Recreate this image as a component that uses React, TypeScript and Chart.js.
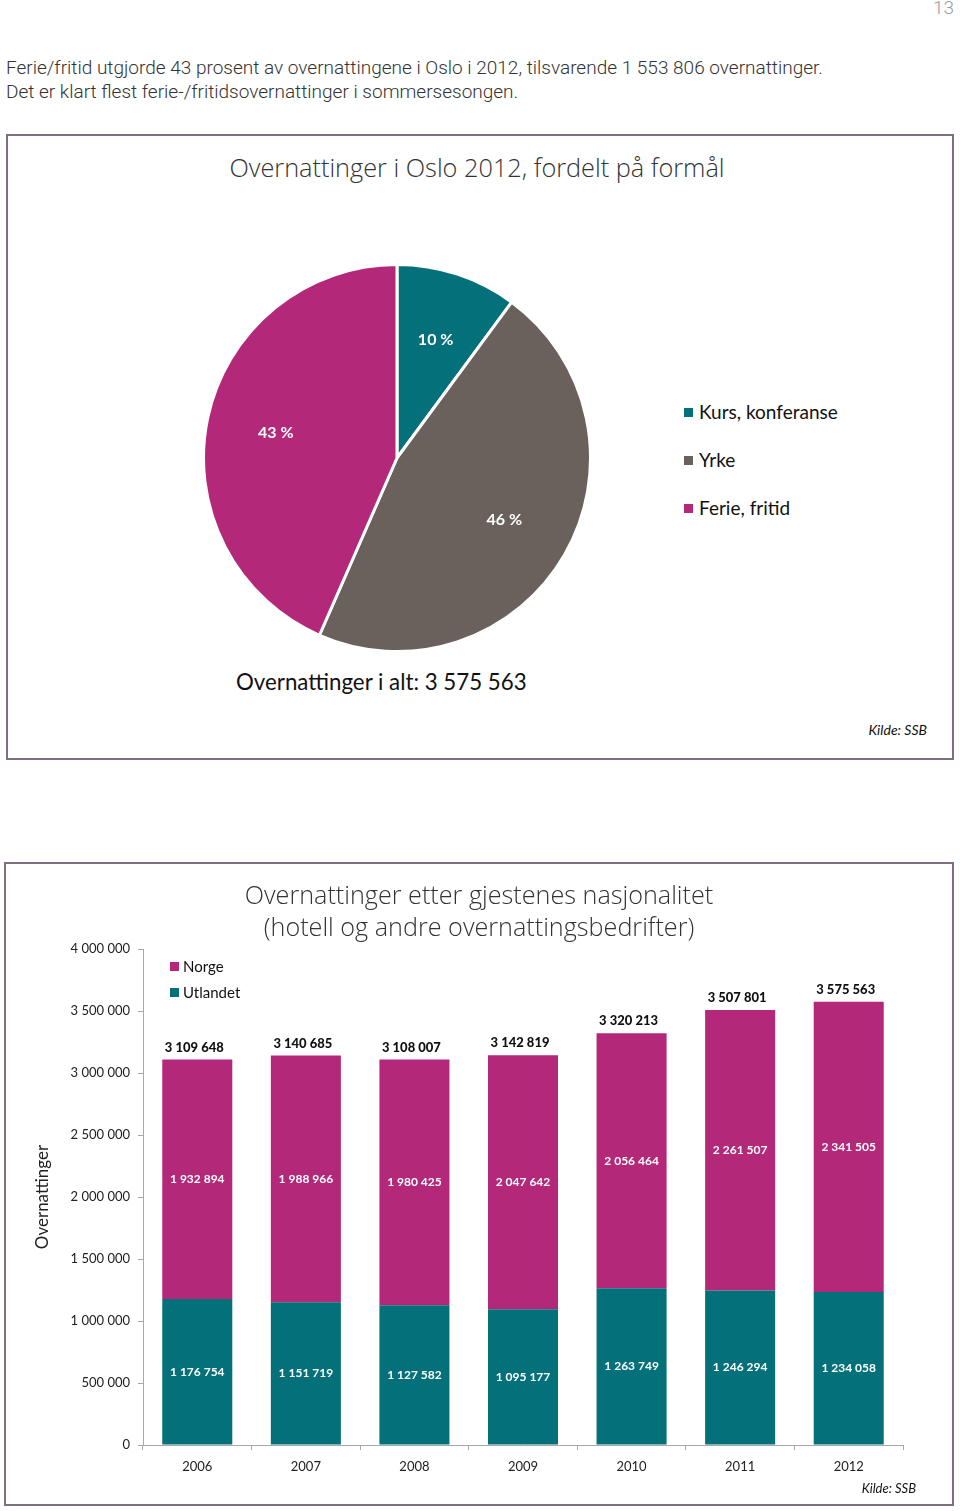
import React, { useEffect, useRef } from "react";
import { Chart, registerables } from "chart.js";

Chart.register(...registerables);

// ---------- data ----------
const pieLabels = ["Kurs, konferanse", "Yrke", "Ferie, fritid"];
const pieValues = [10, 46, 43];
const pieColors = ["#04707a", "#6a615c", "#b4287a"];

const years = ["2006", "2007", "2008", "2009", "2010", "2011", "2012"];
const norge = [1932894, 1988966, 1980425, 2047642, 2056464, 2261507, 2341505];
const utlandet = [1176754, 1151719, 1127582, 1095177, 1263749, 1246294, 1234058];
const totals = [3109648, 3140685, 3108007, 3142819, 3320213, 3507801, 3575563];
const yTicks = [0, 500000, 1000000, 1500000, 2000000, 2500000, 3000000, 3500000, 4000000];

const MAGENTA = "#b4287a";
const TEAL = "#04707a";
const CAL = "Lato, 'Open Sans', sans-serif";

const fmt = (n: number) => String(n).replace(/\B(?=(\d{3})+(?!\d))/g, " ");

function PieChart() {
  const ref = useRef<HTMLCanvasElement | null>(null);
  useEffect(() => {
    if (!ref.current) return;
    const labelPlugin = {
      id: "pieLabels",
      afterDatasetsDraw(chart: any) {
        const ctx = chart.ctx;
        const meta = chart.getDatasetMeta(0);
        ctx.save();
        ctx.fillStyle = "#ffffff";
        ctx.font = `bold 16px ${CAL}`;
        ctx.textAlign = "center";
        ctx.textBaseline = "middle";
        meta.data.forEach((arc: any, i: number) => {
          const { x, y, startAngle, endAngle, outerRadius } = arc.getProps(
            ["x", "y", "startAngle", "endAngle", "outerRadius"],
            true
          );
          const mid = (startAngle + endAngle) / 2;
          const r = outerRadius * 0.64;
          ctx.fillText(`${pieValues[i]} %`, x + Math.cos(mid) * r, y + Math.sin(mid) * r);
        });
        ctx.restore();
      },
    };
    const chart = new Chart(ref.current, {
      type: "pie",
      data: {
        labels: pieLabels,
        datasets: [
          {
            data: pieValues,
            backgroundColor: pieColors,
            borderColor: "#ffffff",
            borderWidth: 3,
          },
        ],
      },
      options: {
        animation: false,
        responsive: false,
        maintainAspectRatio: false,
        layout: { padding: 0 },
        plugins: { legend: { display: false }, tooltip: { enabled: false } },
      },
      plugins: [labelPlugin],
    });
    return () => chart.destroy();
  }, []);
  return (
    <canvas
      ref={ref}
      width={390}
      height={390}
      style={{ position: "absolute", left: 202, top: 263, width: 390, height: 390 }}
    />
  );
}

function BarChart() {
  const ref = useRef<HTMLCanvasElement | null>(null);
  useEffect(() => {
    if (!ref.current) return;
    const labelPlugin = {
      id: "barLabels",
      afterDatasetsDraw(chart: any) {
        const ctx = chart.ctx;
        ctx.save();
        ctx.textAlign = "center";
        ctx.textBaseline = "middle";
        chart.data.datasets.forEach((ds: any, di: number) => {
          const meta = chart.getDatasetMeta(di);
          meta.data.forEach((bar: any, i: number) => {
            const { x, y, base } = bar.getProps(["x", "y", "base"], true);
            ctx.fillStyle = "#ffffff";
            ctx.font = `bold 12px ${CAL}`;
            ctx.fillText(fmt(ds.data[i]), x, (y + base) / 2);
          });
        });
        const top = chart.getDatasetMeta(chart.data.datasets.length - 1);
        top.data.forEach((bar: any, i: number) => {
          const { x, y } = bar.getProps(["x", "y"], true);
          ctx.fillStyle = "#111111";
          ctx.font = `900 13px ${CAL}`;
          ctx.fillText(fmt(totals[i]), x - 3, y - 12);
        });
        ctx.restore();
      },
    };
    const chart = new Chart(ref.current, {
      type: "bar",
      data: {
        labels: years,
        datasets: [
          { label: "Utlandet", data: utlandet, backgroundColor: TEAL, stack: "s" },
          { label: "Norge", data: norge, backgroundColor: MAGENTA, stack: "s" },
        ],
      },
      options: {
        animation: false,
        responsive: false,
        maintainAspectRatio: false,
        layout: { padding: { left: 0, right: 57, top: 89, bottom: 29 } },
        datasets: { bar: { categoryPercentage: 1, barPercentage: 0.645 } },
        plugins: { legend: { display: false }, tooltip: { enabled: false } },
        scales: {
          x: {
            stacked: true,
            afterFit: (s: any) => {
              s.height = 31;
            },
            grid: {
              offset: true,
              drawOnChartArea: false,
              drawTicks: true,
              tickLength: 5,
              color: "#a8a8a8",
            },
            border: { color: "#a8a8a8", width: 1 },
            ticks: { color: "#222", font: { family: CAL, size: 13 }, padding: 9 },
          },
          y: {
            stacked: true,
            min: 0,
            max: 4000000,
            afterFit: (s: any) => {
              s.width = 143;
            },
            afterBuildTicks: (s: any) => {
              s.ticks = yTicks.map((v) => ({ value: v }));
            },
            grid: {
              drawOnChartArea: false,
              drawTicks: true,
              tickLength: 5,
              color: "#a8a8a8",
            },
            border: { color: "#a8a8a8", width: 1 },
            ticks: {
              color: "#222",
              font: { family: CAL, size: 13 },
              padding: 8,
              callback: (v: any) => fmt(Number(v)),
            },
            title: {
              display: true,
              text: "Overnattinger",
              color: "#222",
              font: { family: CAL, size: 17 },
              padding: { top: 32, bottom: 0 },
            },
          },
        },
      },
      plugins: [labelPlugin],
    });
    return () => chart.destroy();
  }, []);
  return (
    <canvas
      ref={ref}
      width={960}
      height={645}
      style={{ position: "absolute", left: 0, top: 860, width: 960, height: 645 }}
    />
  );
}

const abs = (s: React.CSSProperties): React.CSSProperties => ({ position: "absolute", ...s });
const TITLE_FONT = "'Open Sans', 'DejaVu Sans', sans-serif";

export default function App() {
  return (
    <div
      style={{
        position: "absolute",
        left: 0,
        top: 0,
        width: 960,
        height: 1511,
        background: "#fff",
        fontFamily: CAL,
        color: "#111",
      }}
    >
      <div style={abs({ right: 6, top: -4, fontSize: 19, color: "#9a9a9a", fontFamily: "Roboto, sans-serif", fontWeight: 300 })}>13</div>
      <div
        style={abs({
          left: 6,
          top: 56,
          fontSize: 19,
          lineHeight: "24px",
          color: "#333",
          fontFamily: "Roboto, sans-serif",
          fontWeight: 300,
          whiteSpace: "nowrap",
        })}
      >
        Ferie/fritid utgjorde 43 prosent av overnattingene i Oslo i 2012, tilsvarende 1 553 806 overnattinger.
        <br />
        Det er klart flest ferie-/fritidsovernattinger i sommersesongen.
      </div>

      {/* Pie box */}
      <div style={abs({ left: 6, top: 134, width: 944, height: 622, border: "2px solid #7d6f7d" })} />
      <div
        style={abs({
          left: 0,
          width: 954,
          top: 150,
          textAlign: "center",
          fontSize: 25.3,
          fontWeight: 300,
          fontFamily: TITLE_FONT,
          color: "#333",
          whiteSpace: "nowrap",
        })}
      >
        Overnattinger i Oslo 2012, fordelt på formål
      </div>
      <PieChart />
      {pieLabels.map((l, i) => (
        <div key={l} style={abs({ left: 684, top: 400 + i * 48, fontSize: 19, lineHeight: "24px", whiteSpace: "nowrap" })}>
          <span style={{ display: "inline-block", width: 9, height: 9, background: pieColors[i], marginRight: 6, verticalAlign: "2px" }} />
          {l}
        </div>
      ))}
      <div style={abs({ left: 236, top: 668, fontSize: 22.3, lineHeight: "28px", whiteSpace: "nowrap" })}>
        Overnattinger i alt: 3 575 563
      </div>
      <div style={abs({ right: 33, top: 721, fontSize: 14, fontStyle: "italic", whiteSpace: "nowrap" })}>Kilde: SSB</div>

      {/* Bar box */}
      <div style={abs({ left: 4, top: 862, width: 946, height: 640, border: "2px solid #7d6f7d" })} />
      <BarChart />
      <div
        style={abs({
          left: 0,
          width: 958,
          top: 878,
          textAlign: "center",
          fontSize: 25.2,
          lineHeight: "32px",
          fontWeight: 300,
          fontFamily: TITLE_FONT,
          color: "#333",
          whiteSpace: "nowrap",
        })}
      >
        Overnattinger etter gjestenes nasjonalitet
        <br />
        (hotell og andre overnattingsbedrifter)
      </div>
      {[
        { l: "Norge", c: MAGENTA },
        { l: "Utlandet", c: TEAL },
      ].map((it, i) => (
        <div key={it.l} style={abs({ left: 170, top: 956 + i * 26, fontSize: 15, lineHeight: "20px", whiteSpace: "nowrap" })}>
          <span style={{ display: "inline-block", width: 9, height: 9, background: it.c, marginRight: 4, verticalAlign: "1px" }} />
          {it.l}
        </div>
      ))}
      <div style={abs({ right: 44, top: 1480, fontSize: 13, fontStyle: "italic", whiteSpace: "nowrap" })}>Kilde: SSB</div>
    </div>
  );
}
